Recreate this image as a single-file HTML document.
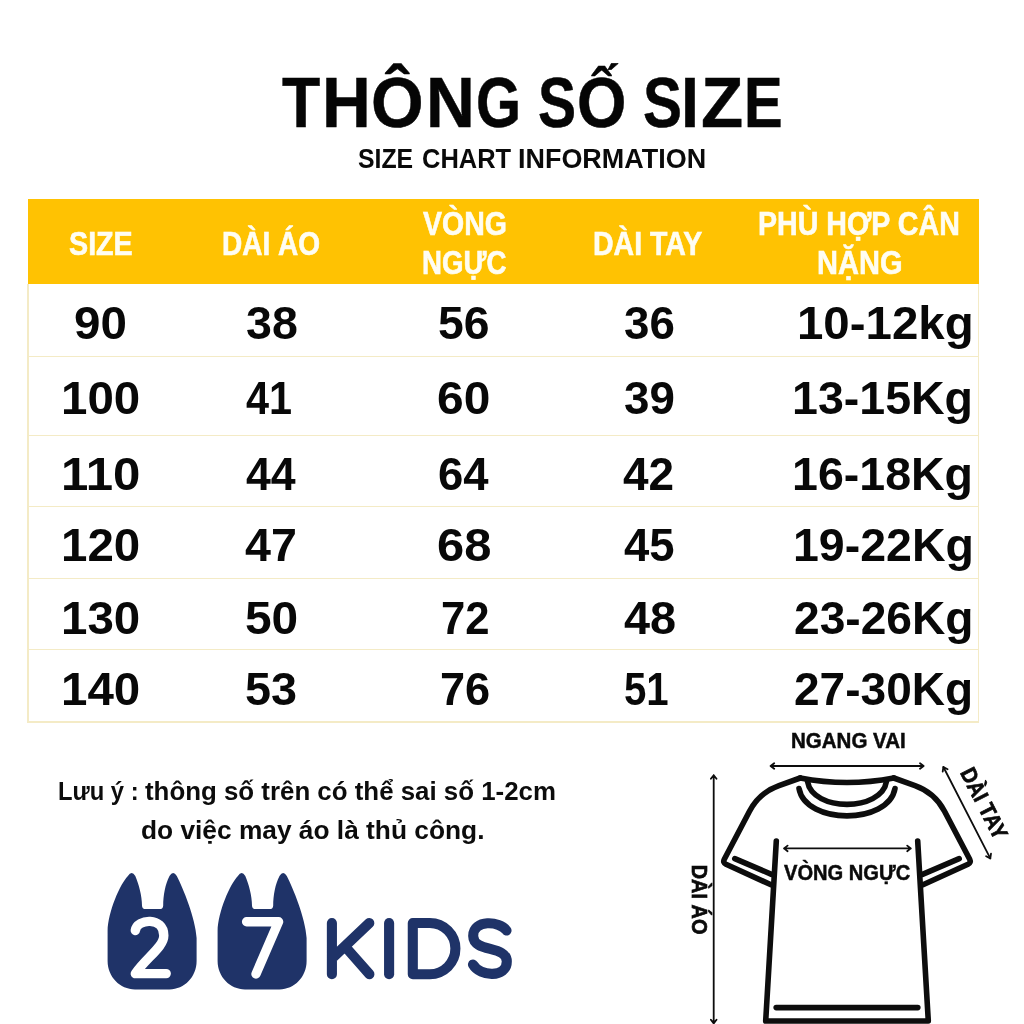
<!DOCTYPE html>
<html lang="vi">
<head>
<meta charset="utf-8">
<title>Thông số size</title>
<style>
html,body{margin:0;padding:0;background:#fff;}
body{width:1024px;height:1024px;position:relative;overflow:hidden;font-family:"Liberation Sans",sans-serif;}
.t{position:absolute;white-space:nowrap;line-height:1;font-weight:bold;transform-origin:0 0;font-family:"Liberation Sans",sans-serif;}
.hdr{position:absolute;left:27.5px;top:198.6px;width:951px;height:85.6px;background:#ffc202;}
.ln{position:absolute;background:#f4ebc6;}
svg{position:absolute;left:0;top:0;}
</style>
</head>
<body>
<div class="hdr"></div>
<!-- table borders -->
<div class="ln" style="left:27.4px;top:284px;width:1.2px;height:438px"></div>
<div class="ln" style="left:977.9px;top:284px;width:1.2px;height:438px"></div>
<div class="ln" style="left:27.4px;top:355.6px;width:951.5px;height:1.2px"></div>
<div class="ln" style="left:27.4px;top:434.6px;width:951.5px;height:1.2px"></div>
<div class="ln" style="left:27.4px;top:506.2px;width:951.5px;height:1.2px"></div>
<div class="ln" style="left:27.4px;top:577.8px;width:951.5px;height:1.2px"></div>
<div class="ln" style="left:27.4px;top:649.2px;width:951.5px;height:1.2px"></div>
<div class="ln" style="left:27.4px;top:721.4px;width:951.5px;height:1.2px"></div>

<svg width="1024" height="1024" viewBox="0 0 1024 1024">
  <!-- logo -->
  <g fill="#1f3368">
    <path d="M127.9 876 Q131.7 869.8 135.3 876 C138.8 884 142 896 142 905.4 Q142 909.1 145.7 909.1 L159.5 909.1 Q163.2 909.1 163.2 905.4 C163.2 896 165.2 884 169.5 876 Q173.2 869.8 176.8 876 C183 888 195.4 918 196.6 938 L196.6 961 C196.6 976.7 184.5 989.4 169.5 989.4 L135 989.4 C119.9 989.4 107.6 976.7 107.6 961 L107.6 931 C108 912 120 884 127.9 876 Z"/>
    <path transform="translate(110 0)" d="M127.9 876 Q131.7 869.8 135.3 876 C138.8 884 142 896 142 905.4 Q142 909.1 145.7 909.1 L159.5 909.1 Q163.2 909.1 163.2 905.4 C163.2 896 165.2 884 169.5 876 Q173.2 869.8 176.8 876 C183 888 195.4 918 196.6 938 L196.6 961 C196.6 976.7 184.5 989.4 169.5 989.4 L135 989.4 C119.9 989.4 107.6 976.7 107.6 961 L107.6 931 C108 912 120 884 127.9 876 Z"/>
  </g>
  <g fill="none" stroke="#fff" stroke-width="9.4" stroke-linecap="round" stroke-linejoin="round">
    <path d="M135.3 930.5 C137 918.5 163.8 916.5 163.8 935.5 C163.8 947 147 957 135.3 973.6 L166.2 973.6"/>
    <path d="M246.6 921.7 L278.6 921.7 L256 974"/>
  </g>
  <g fill="none" stroke="#1f3368" stroke-width="10.1" stroke-linecap="round" stroke-linejoin="round">
    <path d="M331.9 923 L331.9 974.2 M369.3 923 L333.5 957 M345.5 947 L369.4 974.2"/>
    <path d="M389.1 923 L389.1 974.2"/>
    <path d="M412.8 923 L429.8 923 A25.6 25.6 0 0 1 429.8 974.2 L412.8 974.2 Z"/>
    <path d="M506.5 930.5 C500 921 473 919 473.2 936 C473.4 953 506.8 945 506.8 961.5 C506.8 978 480 977 473 964.5"/>
  </g>
  <!-- shirt -->
  <g fill="none" stroke="#0d0d0d" stroke-width="5.6" stroke-linecap="round" stroke-linejoin="round">
    <path d="M800.2 778 L779 785.6 Q759.3 792.6 749.5 811.2 L724.3 859.2 Q722.6 862.6 726 864.3 L771 884.8"/>
    <path d="M893.8 778 L915 785.6 Q934.7 792.6 944.5 811.2 L969.7 859.2 Q971.4 862.6 968 864.3 L923 884.8"/>
    <path d="M800.2 778 Q847 787 893.8 778"/>
    <path d="M807.5 781.4 C812.5 812 881.5 812 886.5 781.4"/>
    <path d="M799 788.6 C805.5 825 888.5 825 895 788.6"/>
    <path d="M734.8 858.6 L771.5 874.4"/>
    <path d="M959.2 858.6 L922.5 874.4"/>
    <path d="M776.3 841 L765.7 1021 L928.3 1021 L917.7 841"/>
    <path d="M776.2 1007.6 L917.8 1007.6"/>
  </g>
  <!-- arrows -->
  <g fill="none" stroke="#0d0d0d" stroke-width="1.8" stroke-linecap="round" stroke-linejoin="round">
    <path d="M770.6 766 L923.6 766 M774.2 763.2 L770.6 766 L774.2 768.8 M920 763.2 L923.6 766 L920 768.8"/>
    <path d="M784 848.4 L910.8 848.4 M787.6 845.6 L784 848.4 L787.6 851.2 M907.2 845.6 L910.8 848.4 L907.2 851.2"/>
    <path d="M713.7 775.2 L713.7 1023.4 M710.9 778.8 L713.7 775.2 L716.5 778.8 M710.9 1019.8 L713.7 1023.4 L716.5 1019.8"/>
    <path d="M943.4 767 L990.3 858.4"/>
    <path d="M942.7 771.7 L943.4 767 L947.6 769.2 M986.1 856.2 L990.3 858.4 L991 853.7"/>
  </g>
</svg>
<div id="txt" style="position:absolute;left:0;top:0;width:1024px;height:1024px;will-change:transform">
<div class="t" style="left:282.02px;top:69.11px;font-size:69.57px;color:#050505;-webkit-text-stroke:0.5px #050505;transform:scaleX(0.8993)">T</div>
<div class="t" style="left:322.18px;top:69.11px;font-size:69.57px;color:#050505;-webkit-text-stroke:0.5px #050505;transform:scaleX(0.9708)">H</div>
<div class="t" style="left:370.68px;top:69.11px;font-size:69.57px;color:#050505;-webkit-text-stroke:0.5px #050505;transform:scaleX(0.9731)">Ô</div>
<div class="t" style="left:426.28px;top:69.11px;font-size:69.57px;color:#050505;-webkit-text-stroke:0.5px #050505;transform:scaleX(0.9708)">N</div>
<div class="t" style="left:476.35px;top:69.11px;font-size:69.57px;color:#050505;-webkit-text-stroke:0.5px #050505;transform:scaleX(0.8330)">G</div>
<div class="t" style="left:538.46px;top:69.11px;font-size:69.57px;color:#050505;-webkit-text-stroke:0.5px #050505;transform:scaleX(0.8205)">S</div>
<div class="t" style="left:576.68px;top:69.11px;font-size:69.57px;color:#050505;-webkit-text-stroke:0.5px #050505;transform:scaleX(0.9131)">Ố</div>
<div class="t" style="left:642.88px;top:69.11px;font-size:69.57px;color:#050505;-webkit-text-stroke:0.5px #050505;transform:scaleX(0.8402)">S</div>
<div class="t" style="left:681.10px;top:69.11px;font-size:69.57px;color:#050505;-webkit-text-stroke:0.5px #050505;transform:scaleX(0.9284)">I</div>
<div class="t" style="left:700.57px;top:69.11px;font-size:69.57px;color:#050505;-webkit-text-stroke:0.5px #050505;transform:scaleX(0.9918)">Z</div>
<div class="t" style="left:744.47px;top:69.11px;font-size:69.57px;color:#050505;-webkit-text-stroke:0.5px #050505;transform:scaleX(0.8323)">E</div>
<div class="t" style="left:358.43px;top:146.25px;font-size:26.87px;color:#0a0a0a;transform:scaleX(0.9235)">SIZE</div>
<div class="t" style="left:421.77px;top:146.25px;font-size:26.87px;color:#0a0a0a;transform:scaleX(0.9481)">CHART</div>
<div class="t" style="left:518.32px;top:146.25px;font-size:26.87px;color:#0a0a0a;transform:scaleX(1.0032)">INFORMATION</div>
<div class="t" style="left:68.65px;top:227.54px;font-size:32.68px;color:#fffdf2;-webkit-text-stroke:0.6px #fffdf2;transform:scaleX(0.8777)">SIZE</div>
<div class="t" style="left:222.33px;top:227.54px;font-size:32.68px;color:#fffdf2;-webkit-text-stroke:0.6px #fffdf2;transform:scaleX(0.8584)">DÀI ÁO</div>
<div class="t" style="left:422.80px;top:208.34px;font-size:32.68px;color:#fffdf2;-webkit-text-stroke:0.6px #fffdf2;transform:scaleX(0.8722)">VÒNG</div>
<div class="t" style="left:421.60px;top:247.14px;font-size:32.68px;color:#fffdf2;-webkit-text-stroke:0.6px #fffdf2;transform:scaleX(0.8469)">NGỰC</div>
<div class="t" style="left:593.45px;top:227.54px;font-size:32.68px;color:#fffdf2;-webkit-text-stroke:0.6px #fffdf2;transform:scaleX(0.8724)">DÀI TAY</div>
<div class="t" style="left:758.27px;top:208.34px;font-size:32.68px;color:#fffdf2;-webkit-text-stroke:0.6px #fffdf2;transform:scaleX(0.8752)">PHÙ HỢP CÂN</div>
<div class="t" style="left:816.73px;top:247.14px;font-size:32.68px;color:#fffdf2;-webkit-text-stroke:0.6px #fffdf2;transform:scaleX(0.8891)">NẶNG</div>
<div class="t" style="left:74.45px;top:300.39px;font-size:46.09px;color:#080808;transform:scaleX(1.0320)">90</div>
<div class="t" style="left:61.03px;top:375.29px;font-size:46.09px;color:#080808;transform:scaleX(1.0298)">100</div>
<div class="t" style="left:60.93px;top:450.59px;font-size:46.09px;color:#080808;transform:scaleX(1.0674)">110</div>
<div class="t" style="left:61.03px;top:522.49px;font-size:46.09px;color:#080808;transform:scaleX(1.0298)">120</div>
<div class="t" style="left:61.03px;top:594.59px;font-size:46.09px;color:#080808;transform:scaleX(1.0298)">130</div>
<div class="t" style="left:61.03px;top:666.09px;font-size:46.09px;color:#080808;transform:scaleX(1.0298)">140</div>
<div class="t" style="left:245.83px;top:300.39px;font-size:46.09px;color:#080808;transform:scaleX(1.0102)">38</div>
<div class="t" style="left:245.72px;top:375.29px;font-size:46.09px;color:#080808;transform:scaleX(0.8981)">41</div>
<div class="t" style="left:245.54px;top:450.59px;font-size:46.09px;color:#080808;transform:scaleX(0.9702)">44</div>
<div class="t" style="left:245.17px;top:522.49px;font-size:46.09px;color:#080808;transform:scaleX(1.0124)">47</div>
<div class="t" style="left:244.66px;top:594.59px;font-size:46.09px;color:#080808;transform:scaleX(1.0382)">50</div>
<div class="t" style="left:244.54px;top:666.09px;font-size:46.09px;color:#080808;transform:scaleX(1.0140)">53</div>
<div class="t" style="left:437.82px;top:300.39px;font-size:46.09px;color:#080808;transform:scaleX(1.0035)">56</div>
<div class="t" style="left:437.44px;top:375.29px;font-size:46.09px;color:#080808;transform:scaleX(1.0391)">60</div>
<div class="t" style="left:437.88px;top:450.59px;font-size:46.09px;color:#080808;transform:scaleX(0.9866)">64</div>
<div class="t" style="left:436.88px;top:522.49px;font-size:46.09px;color:#080808;transform:scaleX(1.0602)">68</div>
<div class="t" style="left:440.66px;top:594.59px;font-size:46.09px;color:#080808;transform:scaleX(0.9468)">72</div>
<div class="t" style="left:440.38px;top:666.09px;font-size:46.09px;color:#080808;transform:scaleX(0.9796)">76</div>
<div class="t" style="left:623.90px;top:300.39px;font-size:46.09px;color:#080808;transform:scaleX(0.9913)">36</div>
<div class="t" style="left:623.90px;top:375.29px;font-size:46.09px;color:#080808;transform:scaleX(0.9917)">39</div>
<div class="t" style="left:623.22px;top:450.59px;font-size:46.09px;color:#080808;transform:scaleX(0.9967)">42</div>
<div class="t" style="left:624.13px;top:522.49px;font-size:46.09px;color:#080808;transform:scaleX(0.9864)">45</div>
<div class="t" style="left:624.08px;top:594.59px;font-size:46.09px;color:#080808;transform:scaleX(1.0168)">48</div>
<div class="t" style="left:624.24px;top:666.09px;font-size:46.09px;color:#080808;transform:scaleX(0.8723)">51</div>
<div class="t" style="left:797.04px;top:300.39px;font-size:46.09px;color:#080808;transform:scaleX(1.0290)">10-12kg</div>
<div class="t" style="left:791.87px;top:375.29px;font-size:46.09px;color:#080808;transform:scaleX(1.0098)">13-15Kg</div>
<div class="t" style="left:791.87px;top:450.59px;font-size:46.09px;color:#080808;transform:scaleX(1.0098)">16-18Kg</div>
<div class="t" style="left:792.87px;top:522.49px;font-size:46.09px;color:#080808;transform:scaleX(1.0091)">19-22Kg</div>
<div class="t" style="left:793.96px;top:594.59px;font-size:46.09px;color:#080808;transform:scaleX(1.0016)">23-26Kg</div>
<div class="t" style="left:794.17px;top:666.09px;font-size:46.09px;color:#080808;transform:scaleX(0.9990)">27-30Kg</div>
<div class="t" style="left:58.13px;top:779.34px;font-size:25.71px;color:#0c0c0c;transform:scaleX(0.9248)">Lưu ý :</div>
<div class="t" style="left:145.07px;top:779.34px;font-size:25.71px;color:#0c0c0c;transform:scaleX(1.0060)">thông số trên có thể sai số 1-2cm</div>
<div class="t" style="left:140.62px;top:818.44px;font-size:25.71px;color:#0c0c0c;transform:scaleX(1.0232)">do việc may áo là thủ công.</div>
<div class="t" style="left:791.46px;top:730.29px;font-size:22.22px;color:#0a0a0a;-webkit-text-stroke:0.5px #0a0a0a;transform:scaleX(0.9236)">NGANG VAI</div>
<div class="t" style="left:784.16px;top:862.49px;font-size:22.22px;color:#0a0a0a;-webkit-text-stroke:0.5px #0a0a0a;transform:scaleX(0.9051)">VÒNG NGỰC</div>
<div class="t" style="left:690.60px;top:845.67px;font-size:22.08px;color:#0a0a0a;-webkit-text-stroke:0.7px #0a0a0a;transform-origin:0 18.69px;transform:rotate(90deg) scaleX(0.9020)">DÀI ÁO</div>
<div class="t" style="left:959.13px;top:754.17px;font-size:22.22px;color:#0a0a0a;-webkit-text-stroke:0.7px #0a0a0a;transform-origin:0 18.81px;transform:rotate(62.9deg) scaleX(0.9070)">DÀI TAY</div>
</div>
</body>
</html>
